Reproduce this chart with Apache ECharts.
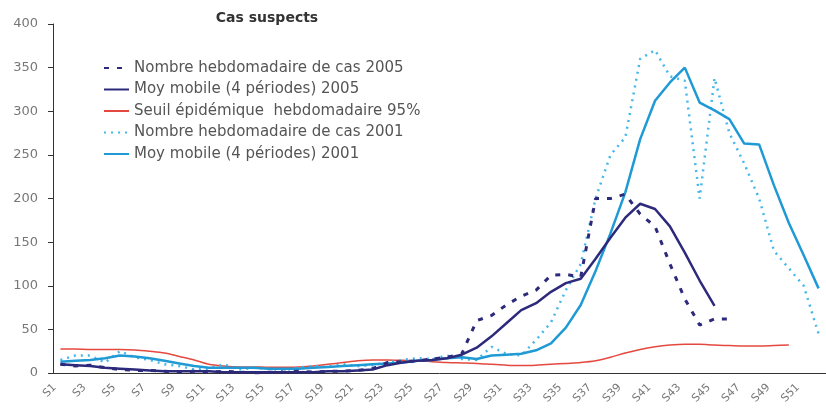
<!DOCTYPE html>
<html>
<head>
<meta charset="utf-8">
<script src="https://cdn.jsdelivr.net/npm/echarts@6/dist/echarts.min.js"></script>
<style>
  html, body { margin: 0; padding: 0; background: #fff; }
  #main { width: 826px; height: 412px; }
</style>
</head>
<body>
<div id="main"></div>
<script>
var weeks = ['S1','S2','S3','S4','S5','S6','S7','S8','S9','S10','S11','S12','S13','S14','S15','S16','S17','S18','S19','S20',
  'S21','S22','S23','S24','S25','S26','S27','S28','S29','S30','S31','S32','S33','S34','S35','S36','S37','S38','S39','S40',
  'S41','S42','S43','S44','S45','S46','S47','S48','S49','S50','S51','S52'];

// Nombre hebdomadaire de cas 2005
var cas2005 = [10, 8, 9, 6, 4, 3, 3, 2, 1, 2, 1, 2, 1, 0, 1, 1, 2, 1, 2, 2, 3, 5, 12, 13, 14, 16, 18, 22, 60, 66,
  78, 88, 95, 112, 113, 110, 200, 200, 205, 182, 168, 125, 85, 55, 62, 62];
// Moy mobile (4 periodes) 2005
var moy2005 = [10, 9, 8, 6, 5, 4, 3, 2, 2, 2, 2, 1, 1, 1, 1, 1, 1, 1, 2, 2, 3, 4, 9, 12, 14, 15, 17, 21, 29, 42,
  57, 72, 80, 93, 103, 108, 131, 155, 178, 194, 188, 168, 138, 106, 77];
// Seuil epidemique hebdomadaire 95%
var seuil = [27.5, 27.5, 27, 27, 27, 26.5, 25, 23, 19, 15, 10, 8, 7, 7, 6.5, 6.5, 7, 8, 10, 12, 14, 15, 15, 14.5, 14,
  13, 12, 11.5, 11, 10, 9, 8.5, 9, 10, 11, 12, 14, 18, 23, 27, 30, 32, 33, 33, 32, 31.5, 31, 31, 31.5, 32];
// Nombre hebdomadaire de cas 2001
var cas2001 = [15, 20, 20, 12, 25, 18, 15, 10, 8, 4, 5, 10, 4, 6, 5, 3, 6, 8, 7, 10, 8, 9, 12, 15, 17, 16, 20, 16,
  15, 30, 22, 20, 38, 58, 95, 125, 200, 250, 270, 360, 370, 340, 335, 200, 338, 275, 240, 200, 140, 120, 100, 45];
// Moy mobile (4 periodes) 2001
var moy2001 = [13, 14, 15, 17, 20, 19, 17, 14, 11, 8, 6, 6, 6, 6, 5, 5, 5, 6, 7, 8, 9, 10, 11, 12, 14, 15, 17, 18,
  16, 20, 21, 22, 26, 34, 52, 78, 117, 160, 207, 268, 312, 333, 350, 310, 301, 291, 263, 262, 215, 172, 135, 97];

var yTicks = { min: 0, max: 400, interval: 50 };

var navy = '#2d2a7c';
var red = '#e4493f';
var lightBlue = '#45b7ea';
var blue = '#1f9ad5';
var font = 'DejaVu Sans, Verdana, sans-serif';

var myChart = echarts.init(document.getElementById('main'));

var option = {
  backgroundColor: '#ffffff',
  animation: false,
  title: {
    text: 'Cas suspects',
    left: 262,
    textAlign: 'center',
    top: 6,
    textStyle: { fontFamily: font, fontSize: 14, fontWeight: 'bold', color: '#333' }
  },
  legend: {
    orient: 'vertical',
    left: 103,
    top: 60,
    padding: 0,
    itemWidth: 25,
    itemHeight: 14,
    itemGap: 5.5,
    itemStyle: { opacity: 0 },
    textStyle: { fontFamily: font, fontSize: 15, lineHeight: 16, color: '#555' },
    data: [
      'Nombre hebdomadaire de cas 2005',
      'Moy mobile (4 périodes) 2005',
      'Seuil épidémique  hebdomadaire 95%',
      'Nombre hebdomadaire de cas 2001',
      'Moy mobile (4 périodes) 2001'
    ]
  },
  grid: { left: 53, top: 24, width: 775, height: 349 },
  xAxis: {
    type: 'category',
    data: weeks,
    boundaryGap: true,
    axisLine: { lineStyle: { color: '#333', width: 1 } },
    axisTick: { interval: 1, length: 5, lineStyle: { color: '#333' } },
    axisLabel: { interval: 1, rotate: 45, margin: 7, padding: [0, 8, 0, 0], fontFamily: font, fontSize: 11, color: '#777' }
  },
  yAxis: {
    type: 'value',
    min: yTicks.min,
    max: yTicks.max,
    interval: yTicks.interval,
    splitLine: { show: false },
    axisLine: { show: true, lineStyle: { color: '#333', width: 1 } },
    axisTick: { show: true, length: 5, lineStyle: { color: '#333' } },
    axisLabel: { margin: 15, fontFamily: font, fontSize: 13, color: '#777' }
  },
  series: [
    {
      name: 'Seuil épidémique  hebdomadaire 95%',
      type: 'line', data: seuil, symbol: 'none', smooth: 0.3,
      lineStyle: { color: red, width: 1.5 }, itemStyle: { color: red }
    },
    {
      name: 'Nombre hebdomadaire de cas 2001',
      type: 'line', data: cas2001, symbol: 'none',
      lineStyle: { color: lightBlue, width: 2.5, type: [2, 5] }, itemStyle: { color: lightBlue }
    },
    {
      name: 'Moy mobile (4 périodes) 2001',
      type: 'line', data: moy2001, symbol: 'none',
      lineStyle: { color: blue, width: 2.5 }, itemStyle: { color: blue }
    },
    {
      name: 'Nombre hebdomadaire de cas 2005',
      type: 'line', data: cas2005, symbol: 'none',
      lineStyle: { color: navy, width: 3, type: [5, 8] }, itemStyle: { color: navy }
    },
    {
      name: 'Moy mobile (4 périodes) 2005',
      type: 'line', data: moy2005, symbol: 'none',
      lineStyle: { color: navy, width: 2.5 }, itemStyle: { color: navy }
    }
  ]
};

myChart.setOption(option);
</script>
</body>
</html>
